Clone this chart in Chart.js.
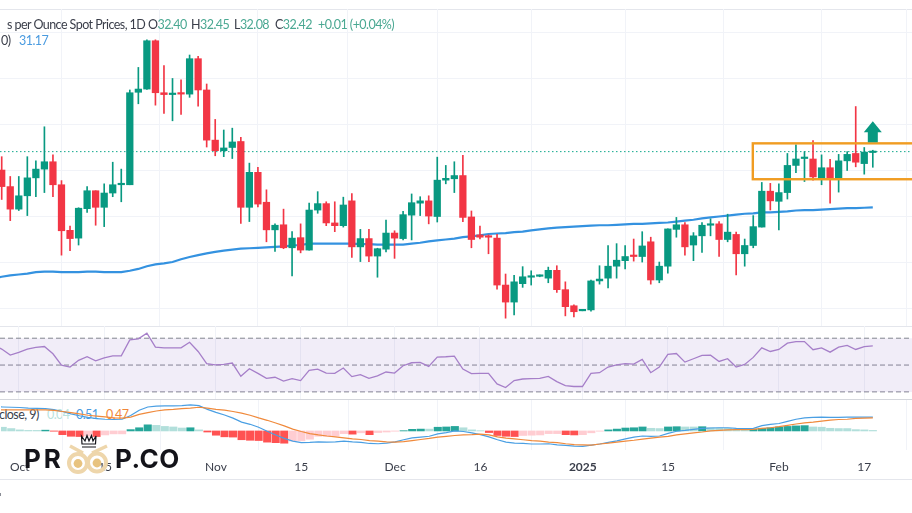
<!DOCTYPE html>
<html>
<head>
<meta charset="utf-8">
<title>Silver per Ounce Spot Prices, 1D</title>
<script src="https://cdn.jsdelivr.net/npm/chart.js@4/dist/chart.umd.min.js"></script>
<style>
    html, body { margin: 0; padding: 0; background: #fff; }
    #page { position: relative; width: 912px; height: 513px; overflow: hidden; font-family: Lato, sans-serif; color: #3a3e4a; }
    canvas { position: absolute; left: 0; }
    .sep { position: absolute; left: 0; width: 912px; height: 1px; background: #e4e6ec; }
    .txt { position: absolute; font-size: 12.5px; line-height: 16px; letter-spacing: -0.55px; white-space: nowrap; }
    .up { color: #4aa892; }
    .logo { position: absolute; top: 444px; font: 700 26px/30px Inter, sans-serif; color: #14141a; }
</style>
</head>
<body>
<div id="page">
    <div class="sep" style="top:9px"></div>
    <canvas id="priceChart" style="top:9px"></canvas>
    <div class="sep" style="top:326px"></div>
    <canvas id="rsiChart" style="top:326px"></canvas>
    <div class="sep" style="top:399px;background:#d4d6dc"></div>
    <span class="txt" style="left:-1px;top:407px">close, 9)</span>
    <span class="txt" style="left:47px;top:407px;color:#b9e3dd">0.04</span>
    <span class="txt" style="left:76px;top:407px;color:#4a9be0">0.51</span>
    <span class="txt" style="left:106px;top:407px;color:#f0883a">0.47</span>
    <canvas id="macdChart" style="top:400px"></canvas>
    <div class="sep" style="top:479px"></div>
    <div style="position:absolute;left:0;top:493px;width:1px;height:3px;background:#8a8d96"></div>

    <span class="txt" style="left:7px;top:17px">s per Ounce Spot Prices, 1D</span>
    <span class="txt" style="left:148px;top:17px">O<span class="up">32.40</span></span>
    <span class="txt" style="left:191px;top:17px">H<span class="up">32.45</span></span>
    <span class="txt" style="left:234px;top:17px">L<span class="up">32.08</span></span>
    <span class="txt" style="left:275px;top:17px">C<span class="up">32.42</span></span>
    <span class="txt up" style="left:318px;top:17px">+0.01 (+0.04%)</span>
    <span class="txt" style="left:1px;top:33px">0)</span>
    <span class="txt" style="left:19px;top:33px;color:#4a9be0">31.17</span>

    <svg style="position:absolute;left:64px;top:432px" width="46" height="46" viewBox="64 432 46 46">
        <path d="M70 446 L83 453 M107 446 L92 453" stroke="#eed6ab" stroke-width="3.5" fill="none"/>
        <circle cx="78" cy="463" r="9" fill="none" stroke="#eed6ab" stroke-width="4"/>
        <circle cx="97" cy="462.5" r="9" fill="none" stroke="#eed6ab" stroke-width="4"/>
        <circle cx="78" cy="463.5" r="4.4" fill="#e8c37f"/>
        <circle cx="97" cy="463" r="4.4" fill="#e8c37f"/>
        <path d="M82 444 L81.5 436 L85 441 L87 435.5 L89 441 L91.5 435.5 L93 441 L96 436 L95.5 444 Z M82 447 L96 447" stroke="#14141a" stroke-width="1.2" fill="none"/>
    </svg>
    <span class="logo" style="left:24px;letter-spacing:3px">PR</span>
    <span class="logo" style="left:115px;letter-spacing:0.5px">P.CO</span>
</div>

<script>
// one entry per daily bar
const opens = [
    32.02,31.66,31.17,31.46,31.85,32.04,32.20,31.70,30.71,30.54,
    31.18,31.57,31.21,31.52,31.70,31.70,33.71,33.78,34.83,33.70,
    33.66,33.70,33.67,34.44,33.76,32.67,32.44,32.51,32.64,31.21,
    31.97,31.32,30.72,30.83,30.33,30.55,30.28,31.15,31.29,30.87,
    30.81,31.35,30.35,30.53,30.15,30.30,30.65,30.53,31.04,31.30,
    31.35,31.01,31.80,31.83,31.90,31.00,30.61,30.58,30.54,29.52,
    29.15,29.55,29.69,29.71,29.67,29.84,29.42,29.07,28.96,28.98,
    29.61,29.67,29.93,30.05,30.15,30.14,30.46,29.63,29.93,30.73,
    30.83,30.39,30.59,30.82,30.85,30.51,30.62,30.20,30.38,30.78,
    31.56,31.34,31.53,32.12,32.27,32.26,31.83,32.07,31.84,32.22,
    32.38,32.16,32.40
];
const highs = [
    32.31,31.88,31.88,32.31,32.22,32.96,32.35,31.79,30.80,31.20,
    31.66,31.57,31.72,32.19,32.04,33.76,34.25,34.85,34.85,34.29,
    34.01,33.98,34.52,34.49,33.89,33.12,32.89,32.93,32.73,32.17,
    32.08,31.59,30.85,31.17,30.68,30.85,31.30,31.55,31.33,31.33,
    31.43,31.51,30.73,30.73,30.32,30.93,30.70,31.12,31.50,31.44,
    31.46,32.30,32.12,32.20,32.34,31.13,30.80,30.61,30.62,29.76,
    29.73,29.92,29.83,29.74,29.91,29.94,29.59,29.09,28.99,29.63,
    29.94,30.38,30.42,30.38,30.52,30.68,30.56,30.02,30.74,30.99,
    30.88,30.66,30.88,30.96,30.90,31.06,30.67,30.52,31.03,31.75,
    31.73,31.72,32.38,32.57,32.42,32.66,32.35,32.25,32.36,32.42,
    33.40,32.51,32.45
];
const lows = [
    31.38,30.92,31.14,31.03,31.44,31.53,31.44,30.17,30.27,30.39,
    31.10,30.82,30.79,31.44,31.33,31.70,33.46,33.77,33.43,33.25,
    33.09,33.23,33.60,33.41,32.52,32.33,32.31,32.27,30.86,30.90,
    31.22,30.46,30.25,30.31,29.72,30.22,30.28,31.08,30.81,30.68,
    30.78,30.12,30.03,30.03,29.69,30.24,30.10,30.50,30.50,31.03,
    30.85,30.89,31.72,31.53,30.90,30.33,30.52,30.20,29.43,28.80,
    28.87,29.47,29.52,29.70,29.57,29.36,28.85,28.83,28.96,28.95,
    29.54,29.46,29.67,29.87,30.04,30.02,29.54,29.57,29.78,30.56,
    30.17,30.05,30.23,30.59,30.14,30.46,29.74,29.93,30.33,30.78,
    31.15,30.72,31.39,31.96,31.77,31.80,31.70,31.30,31.54,32.01,
    32.09,31.93,32.08
];
const closes = [
    31.66,31.17,31.46,31.85,32.04,32.20,31.70,30.70,30.53,31.19,
    31.57,31.21,31.52,31.70,31.72,33.70,33.78,34.83,33.70,33.66,
    33.68,33.67,34.44,33.76,32.67,32.44,32.50,32.63,31.21,31.97,
    31.28,30.72,30.82,30.33,30.54,30.28,31.15,31.29,30.87,30.81,
    31.26,30.35,30.53,30.15,30.31,30.65,30.54,31.05,31.31,31.35,
    31.02,31.80,31.84,31.90,30.99,30.51,30.56,30.56,29.52,29.15,
    29.59,29.70,29.72,29.73,29.84,29.42,29.05,28.94,28.98,29.61,
    29.65,29.93,30.06,30.14,30.14,30.37,29.63,29.93,30.74,30.83,
    30.35,30.59,30.82,30.85,30.51,30.67,30.20,30.38,30.79,31.56,
    31.35,31.53,32.12,32.26,32.28,31.87,32.07,31.84,32.22,32.36,
    32.19,32.41,32.42
];
// the line series start one bar earlier, just off the left edge
const movingAvg = [
    29.67,
    29.70,29.73,29.75,29.77,29.80,29.81,29.81,29.80,29.80,29.80,
    29.81,29.81,29.80,29.80,29.80,29.83,29.87,29.93,29.97,29.99,
    30.02,30.08,30.13,30.17,30.21,30.24,30.27,30.29,30.31,30.32,
    30.33,30.34,30.35,30.36,30.38,30.39,30.42,30.42,30.42,30.42,
    30.42,30.42,30.41,30.41,30.40,30.40,30.40,30.40,30.42,30.44,
    30.47,30.49,30.51,30.53,30.56,30.58,30.60,30.63,30.64,30.65,
    30.67,30.68,30.71,30.73,30.75,30.77,30.78,30.79,30.80,30.81,
    30.82,30.82,30.83,30.84,30.85,30.85,30.86,30.87,30.88,30.90,
    30.92,30.94,30.97,30.99,31.01,31.03,31.05,31.07,31.08,31.10,
    31.10,31.11,31.12,31.14,31.15,31.15,31.16,31.17,31.18,31.19,
    31.19,31.20,31.21
];
const rsiValues = [
    65.0,
    61.9,57.4,59.4,61.9,63.1,63.8,58.4,50.0,48.5,53.5,
    56.2,53.2,55.4,56.9,56.9,68.8,69.5,73.7,63.3,62.8,
    62.8,62.8,67.0,60.1,51.0,50.2,50.5,51.5,41.6,47.3,
    43.8,40.1,40.9,38.1,39.9,38.4,46.0,47.0,44.0,43.8,
    47.8,41.4,42.8,40.1,41.9,44.8,44.0,49.5,51.7,52.0,
    49.0,55.9,56.2,56.7,47.0,43.6,43.8,43.8,35.9,33.2,
    38.4,39.6,39.9,40.1,41.6,37.7,34.7,34.0,34.0,43.8,
    44.3,48.5,50.2,51.0,50.7,54.2,44.3,48.5,57.9,58.6,
    52.2,54.7,57.2,57.4,52.7,54.7,48.5,50.5,55.7,62.8,
    60.1,61.6,66.3,67.5,67.5,61.4,62.8,59.6,63.3,64.6,
    61.6,63.8,64.3
];
const macdLine = [
    0.91,
    0.90,0.89,0.88,0.86,0.85,0.84,0.80,0.73,0.64,0.57,
    0.51,0.46,0.44,0.43,0.44,0.58,0.78,0.90,0.93,0.94,
    0.94,0.95,0.98,0.95,0.81,0.70,0.60,0.48,0.33,0.25,
    0.14,-0.01,-0.15,-0.28,-0.38,-0.44,-0.43,-0.41,-0.42,-0.41,
    -0.38,-0.41,-0.43,-0.47,-0.48,-0.46,-0.41,-0.33,-0.26,-0.23,
    -0.20,-0.11,-0.06,0.00,-0.02,-0.07,-0.14,-0.22,-0.33,-0.42,
    -0.46,-0.47,-0.49,-0.49,-0.48,-0.52,-0.54,-0.57,-0.58,-0.53,
    -0.49,-0.43,-0.37,-0.30,-0.23,-0.19,-0.20,-0.19,-0.09,-0.01,
    0.02,0.06,0.10,0.11,0.12,0.12,0.10,0.09,0.10,0.20,
    0.25,0.28,0.36,0.44,0.49,0.51,0.52,0.51,0.51,0.52,
    0.52,0.52,0.52
];
const signalLine = [
    0.79,
    0.79,0.79,0.79,0.79,0.79,0.79,0.77,0.73,0.69,0.64,
    0.59,0.56,0.53,0.49,0.48,0.52,0.62,0.69,0.75,0.79,
    0.81,0.84,0.86,0.89,0.86,0.81,0.78,0.73,0.67,0.59,
    0.49,0.40,0.30,0.19,0.07,-0.02,-0.10,-0.15,-0.19,-0.22,
    -0.26,-0.30,-0.32,-0.36,-0.38,-0.41,-0.42,-0.40,-0.36,-0.32,
    -0.28,-0.23,-0.20,-0.17,-0.15,-0.14,-0.12,-0.15,-0.22,-0.27,
    -0.30,-0.33,-0.36,-0.38,-0.42,-0.44,-0.48,-0.51,-0.52,-0.53,
    -0.49,-0.46,-0.42,-0.38,-0.35,-0.31,-0.27,-0.23,-0.20,-0.15,
    -0.11,-0.07,-0.04,0.00,0.02,0.04,0.05,0.05,0.06,0.10,
    0.12,0.16,0.21,0.26,0.30,0.33,0.37,0.41,0.43,0.44,
    0.47,0.48,0.49
];
const macdHist = [
    0.14,0.09,0.04,0.02,0.02,0.03,-0.01,-0.14,-0.20,-0.21,
    -0.19,-0.21,-0.15,-0.11,-0.11,0.05,0.12,0.23,0.21,0.17,
    0.15,0.11,0.12,0.04,-0.04,-0.16,-0.22,-0.23,-0.33,-0.35,
    -0.36,-0.42,-0.44,-0.46,-0.38,-0.37,-0.31,-0.20,-0.20,-0.19,
    -0.10,-0.12,-0.07,-0.14,-0.06,-0.04,-0.01,0.01,0.06,0.07,
    0.07,0.14,0.15,0.17,0.12,0.04,0.01,-0.06,-0.17,-0.20,
    -0.21,-0.17,-0.16,-0.15,-0.10,-0.10,-0.14,-0.15,-0.14,-0.07,
    -0.01,0.04,0.07,0.11,0.12,0.15,0.10,0.09,0.15,0.16,
    0.15,0.15,0.16,0.12,0.11,0.10,0.07,0.05,0.07,0.10,
    0.12,0.15,0.17,0.19,0.20,0.15,0.14,0.10,0.09,0.09,
    0.05,0.04,0.02
];
const tickBars = [2, 12, 25, 35, 46, 56, 68, 78, 91, 101];
const tickLabels = ["Oct", "15", "Nov", "15", "Dec", "16", "2025", "15", "Feb", "17"];
const yearBar = 68;
const lastPrice = 32.42;
const boxTop = 32.6;
const boxBottom = 31.82;
const boxStartBar = 87.95;

const GREEN = "#089981";
const RED = "#f23645";
const GRID = "#f1f3f8";
const X_MIN = -0.2;
const X_MAX = 106.59;

function xScale(showLabels) {
    return {
        type: "linear",
        min: X_MIN,
        max: X_MAX,
        offset: false,
        border: { display: false },
        grid: { color: GRID, drawTicks: false },
        afterBuildTicks: scale => { scale.ticks = tickBars.map(v => ({ value: v })); },
        afterFit: scale => { scale.height = showLabels ? 29 : 0; },
        ticks: {
            display: showLabels,
            autoSkip: false,
            maxRotation: 0,
            padding: 10,
            color: "#3a3e4a",
            font: ctx => ({
                family: "Lato, sans-serif",
                size: 12,
                weight: ctx.tick && ctx.tick.value === yearBar ? "bold" : "normal"
            }),
            callback: value => tickLabels[tickBars.indexOf(value)]
        }
    };
}

function yScale(min, max, stepSize) {
    return {
        min: min,
        max: max,
        border: { display: false },
        afterFit: scale => { scale.width = 0; },
        grid: { display: stepSize > 0, color: GRID, drawTicks: false },
        ticks: { display: false, stepSize: stepSize > 0 ? stepSize : undefined, includeBounds: false }
    };
}

function baseOptions(min, max, stepSize, showLabels) {
    return {
        responsive: false,
        animation: false,
        events: [],
        layout: { padding: 0 },
        plugins: { legend: { display: false }, tooltip: { enabled: false } },
        scales: { x: xScale(showLabels), y: yScale(min, max, stepSize) }
    };
}

function linePoints(values) {
    return values.map((v, i) => ({ x: i - 1, y: v }));
}

function flatLine(value) {
    return [{ x: X_MIN, y: value }, { x: X_MAX, y: value }];
}

// orange range box and the arrow above the last bar
const annotationPlugin = {
    id: "annotations",
    afterDatasetsDraw(chart) {
        const { ctx, scales } = chart;
        const left = scales.x.getPixelForValue(boxStartBar);
        const top = scales.y.getPixelForValue(boxTop);
        const bottom = scales.y.getPixelForValue(boxBottom);
        ctx.save();
        ctx.strokeStyle = "#f09c22";
        ctx.lineWidth = 2.4;
        ctx.strokeRect(left, top, 200, bottom - top);

        const ax = scales.x.getPixelForValue(closes.length - 1);
        const tip = top - 22;
        ctx.fillStyle = GREEN;
        ctx.beginPath();
        ctx.moveTo(ax, tip);
        ctx.lineTo(ax + 9, tip + 11);
        ctx.lineTo(ax + 5, tip + 11);
        ctx.lineTo(ax + 5, tip + 21);
        ctx.lineTo(ax - 5, tip + 21);
        ctx.lineTo(ax - 5, tip + 11);
        ctx.lineTo(ax - 9, tip + 11);
        ctx.closePath();
        ctx.fill();
        ctx.restore();
    }
};

function renderPriceChart() {
    const canvas = document.getElementById("priceChart");
    canvas.width = 912;
    canvas.height = 317;
    const barColors = closes.map((c, i) => (c >= opens[i] ? GREEN : RED));

    new Chart(canvas, {
        type: "bar",
        data: {
            datasets: [
                {
                    label: "Body",
                    order: 0,
                    data: closes.map((c, i) => ({ x: i, y: [opens[i], c] })),
                    backgroundColor: barColors,
                    barThickness: 6.6,
                    minBarLength: 1.5,
                    grouped: false
                },
                {
                    label: "Wick",
                    order: 1,
                    data: closes.map((c, i) => ({ x: i, y: [lows[i], highs[i]] })),
                    backgroundColor: barColors,
                    barThickness: 1,
                    grouped: false
                },
                {
                    type: "line",
                    label: "SMA",
                    order: 2,
                    data: linePoints(movingAvg),
                    borderColor: "#3492e0",
                    borderWidth: 2.2,
                    pointRadius: 0
                },
                {
                    type: "line",
                    label: "Last",
                    order: 3,
                    data: flatLine(lastPrice),
                    borderColor: "#12a88c",
                    borderWidth: 1,
                    borderDash: [1.5, 2.5],
                    pointRadius: 0
                }
            ]
        },
        options: baseOptions(28.63, 35.52, 1, false),
        plugins: [annotationPlugin]
    });
}

function renderRsiChart() {
    const canvas = document.getElementById("rsiChart");
    canvas.width = 912;
    canvas.height = 73;

    function bandLine(value, fill) {
        return {
            data: flatLine(value),
            borderColor: "#83858f",
            borderWidth: 1,
            borderDash: [5, 3],
            pointRadius: 0,
            fill: fill,
            backgroundColor: "rgba(126,87,194,0.11)"
        };
    }

    new Chart(canvas, {
        type: "line",
        data: {
            datasets: [
                { order: 0, data: linePoints(rsiValues), borderColor: "#a67fc9", borderWidth: 1.3, pointRadius: 0 },
                Object.assign(bandLine(70, "+1"), { order: 1 }),
                Object.assign(bandLine(30, false), { order: 2 }),
                Object.assign(bandLine(50, false), { order: 3 })
            ]
        },
        options: baseOptions(24.7, 79.1, 0, false)
    });
}

function renderMacdChart() {
    const canvas = document.getElementById("macdChart");
    canvas.width = 912;
    canvas.height = 79;
    const histColors = macdHist.map((h, i) => {
        const prev = i > 0 ? macdHist[i - 1] : h;
        if (h >= 0) return h > prev ? "#26a69a" : "#b2dfdb";
        return h < prev ? "#ff5252" : "#ffcdd2";
    });

    new Chart(canvas, {
        type: "bar",
        data: {
            datasets: [
                {
                    type: "line",
                    order: 0,
                    data: linePoints(signalLine),
                    borderColor: "#f08a3c",
                    borderWidth: 1.2,
                    pointRadius: 0
                },
                {
                    type: "line",
                    order: 1,
                    data: linePoints(macdLine),
                    borderColor: "#4a9fe3",
                    borderWidth: 1.2,
                    pointRadius: 0
                },
                {
                    order: 2,
                    data: macdHist.map((h, i) => ({ x: i, y: h })),
                    backgroundColor: histColors,
                    barThickness: 7.4,
                    grouped: false
                }
            ]
        },
        options: baseOptions(-0.715, 1.162, 0, true)
    });
}

renderPriceChart();
renderRsiChart();
renderMacdChart();
</script>
</body>
</html>
